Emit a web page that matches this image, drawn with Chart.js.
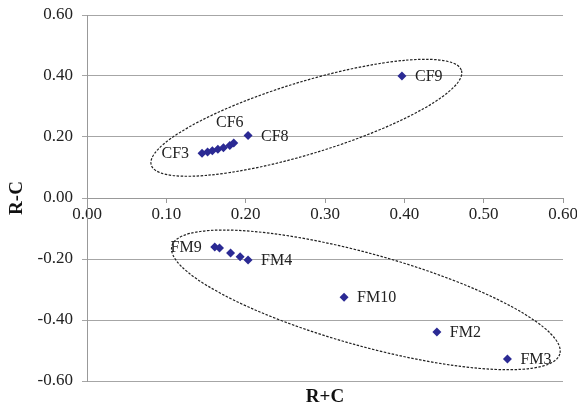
<!DOCTYPE html>
<html>
<head>
<meta charset="utf-8">
<script src="https://cdn.jsdelivr.net/npm/chart.js@4"></script>
<style>
html,body{margin:0;padding:0;background:#fff;}
#wrap{width:577px;height:406px;}
</style>
</head>
<body>
<div id="wrap"><canvas id="c" width="577" height="406"></canvas></div>
<script>
// ---- data ----
const cfX = [0.145, 0.152, 0.158, 0.165, 0.172, 0.180, 0.185, 0.203, 0.397];
const cfY = [0.147, 0.151, 0.155, 0.160, 0.165, 0.172, 0.180, 0.205, 0.400];
const cfNames = ['CF3', '', '', '', '', 'CF6', '', 'CF8', 'CF9'];
const cfLabelSide = ['left', '', '', '', '', 'above', '', 'right', 'right'];

const fmX = [0.161, 0.167, 0.181, 0.193, 0.203, 0.324, 0.441, 0.530];
const fmY = [-0.161, -0.164, -0.180, -0.193, -0.203, -0.325, -0.439, -0.528];
const fmNames = ['FM9', '', '', '', 'FM4', 'FM10', 'FM2', 'FM3'];
const fmLabelSide = ['left', '', '', '', 'right', 'right', 'right', 'right'];

const xTicks = [0, 0.1, 0.2, 0.3, 0.4, 0.5, 0.6];
const yTicks = [-0.6, -0.4, -0.2, 0, 0.2, 0.4, 0.6];

// cluster ellipses: major-axis end points (data units), minor semi-axis (px)
const cfEllipse = {p1: [0.081, 0.108], p2: [0.472, 0.418], minor: 36};
const fmEllipse = {p1: [0.107, -0.157], p2: [0.596, -0.511], minor: 46};

const xTitle = 'R+C';
const yTitle = 'R-C';

// ---- chart ----
const markerColor = '#2b2a94';
const serif = '"Liberation Serif", "Times New Roman", serif';

const toPts = (xs, ys) => xs.map((x, i) => ({x: x, y: ys[i]}));

const ellipsePlugin = {
  id: 'ellipses',
  beforeDatasetsDraw(chart) {
    const ctx = chart.ctx, xs = chart.scales.x, ys = chart.scales.y;
    ctx.save();
    ctx.strokeStyle = '#222';
    ctx.lineWidth = 1.2;
    ctx.setLineDash([2.5, 1.5]);
    [cfEllipse, fmEllipse].forEach(e => {
      const x1 = xs.getPixelForValue(e.p1[0]), y1 = ys.getPixelForValue(e.p1[1]);
      const x2 = xs.getPixelForValue(e.p2[0]), y2 = ys.getPixelForValue(e.p2[1]);
      const cx = (x1 + x2) / 2, cy = (y1 + y2) / 2;
      const a = Math.hypot(x2 - x1, y2 - y1) / 2;
      const ang = Math.atan2(y2 - y1, x2 - x1);
      ctx.beginPath();
      ctx.ellipse(cx, cy, a, e.minor, ang, 0, Math.PI * 2);
      ctx.stroke();
    });
    ctx.restore();
  }
};

const labelPlugin = {
  id: 'pointLabels',
  afterDatasetsDraw(chart) {
    const ctx = chart.ctx;
    ctx.save();
    ctx.font = '16px ' + serif;
    ctx.fillStyle = '#222';
    ctx.textBaseline = 'middle';
    chart.data.datasets.forEach((ds, di) => {
      const meta = chart.getDatasetMeta(di);
      meta.data.forEach((pt, i) => {
        const name = ds.names[i];
        if (!name) return;
        const side = ds.sides[i];
        if (side === 'left') {
          ctx.textAlign = 'right';
          ctx.fillText(name, pt.x - 13, pt.y + 1);
        } else if (side === 'above') {
          ctx.textAlign = 'center';
          ctx.fillText(name, pt.x, pt.y - 23);
        } else {
          ctx.textAlign = 'left';
          ctx.fillText(name, pt.x + 13, pt.y + 1);
        }
      });
    });
    ctx.restore();
  }
};

const xTitlePlugin = {
  id: 'xTitle',
  afterDraw(chart) {
    const ctx = chart.ctx, a = chart.chartArea;
    ctx.save();
    ctx.font = 'bold 19px ' + serif;
    ctx.fillStyle = '#111';
    ctx.textAlign = 'center';
    ctx.textBaseline = 'middle';
    ctx.fillText(xTitle, (a.left + a.right) / 2, a.bottom + 16);
    ctx.restore();
  }
};

new Chart(document.getElementById('c'), {
  type: 'scatter',
  data: {
    datasets: [
      {label: 'CF', data: toPts(cfX, cfY), names: cfNames, sides: cfLabelSide,
       backgroundColor: markerColor, borderColor: markerColor,
       pointStyle: 'rectRot', pointRadius: 4.5, borderWidth: 0},
      {label: 'FM', data: toPts(fmX, fmY), names: fmNames, sides: fmLabelSide,
       backgroundColor: markerColor, borderColor: markerColor,
       pointStyle: 'rectRot', pointRadius: 4.5, borderWidth: 0}
    ]
  },
  options: {
    responsive: false,
    animation: false,
    devicePixelRatio: 1,
    layout: {autoPadding: false, padding: {left: 0, right: 14, top: 15, bottom: 25}},
    plugins: {legend: {display: false}, tooltip: {enabled: false}},
    scales: {
      x: {
        type: 'linear',
        position: {y: 0},
        min: xTicks[0], max: xTicks[xTicks.length - 1],
        afterBuildTicks: s => { s.ticks = xTicks.map(v => ({value: v})); },
        afterFit: s => { s.paddingLeft = 0; s.paddingRight = 0; },
        grid: {drawOnChartArea: false, drawTicks: true, tickLength: 4, color: '#999'},
        border: {color: '#999', width: 1},
        ticks: {
          callback: v => Number(v).toFixed(2),
          font: {family: serif, size: 17}, color: '#222', padding: 2, maxRotation: 0
        }
      },
      y: {
        type: 'linear',
        min: yTicks[0], max: yTicks[yTicks.length - 1],
        afterBuildTicks: s => { s.ticks = yTicks.map(v => ({value: v})); },
        afterFit: s => { s.width = 87; s.paddingTop = 0; s.paddingBottom = 0; },
        grid: {color: '#a6a6a6', lineWidth: 1, tickLength: 5},
        border: {color: '#999', width: 1},
        ticks: {
          callback: v => Number(v).toFixed(2),
          font: {family: serif, size: 17}, color: '#222', padding: 9
        },
        title: {display: true, text: yTitle, font: {family: serif, size: 19, weight: 'bold'},
                color: '#111', padding: {top: 6, bottom: 0}}
      }
    }
  },
  plugins: [ellipsePlugin, labelPlugin, xTitlePlugin]
});
</script>
</body>
</html>
